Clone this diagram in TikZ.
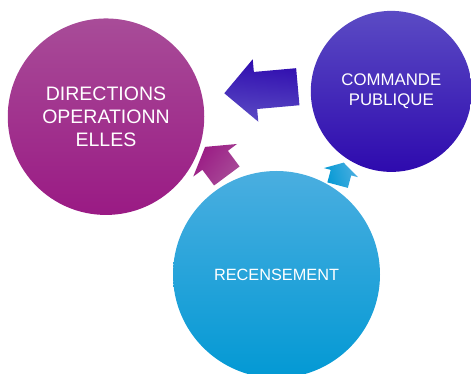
\documentclass[tikz,border=0pt]{standalone}
\usepackage{fontspec}
\setmainfont{Liberation Sans}
\usetikzlibrary{shapes.arrows}
\definecolor{magtop}{RGB}{168,76,152}
\definecolor{magbot}{RGB}{154,26,132}
\definecolor{purtop}{RGB}{91,75,196}
\definecolor{purbot}{RGB}{46,10,174}
\definecolor{blutop}{RGB}{74,174,224}
\definecolor{blubot}{RGB}{3,153,212}
\tikzset{
  bubble/.style = {circle, inner sep=0pt, align=center, text=white},
  mbubble/.style = {bubble, top color=magtop, bottom color=magbot, minimum size=196.5pt,
    font=\fontsize{19.5}{23.3}\selectfont},% bulle directions
  pbubble/.style = {bubble, top color=purtop, bottom color=purbot, minimum size=161pt,
    font=\fontsize{16.8}{20}\selectfont},% bulle commande
  bbubble/.style = {bubble, top color=blutop, bottom color=blubot, minimum size=207pt,
    font=\fontsize{16.3}{19.6}\selectfont},% bulle recensement
  fleche/.style = {single arrow, inner xsep=0pt, anchor=tip},
}

\begin{document}
\begin{tikzpicture}[x=1pt,y=1pt]
\useasboundingbox (0,0) rectangle (471,374);
\node [mbubble] (dir) at (106,257.3) {DIRECTIONS\\OPERATIONN\\ELLES};
\node [pbubble] (cmd) at (391.3,282.6) {COMMANDE\\PUBLIQUE};
\node [bbubble] (rec) at (276.5,99.5) {RECENSEMENT};
% fleches du cycle
\node [fleche, rotate=185.1, minimum height=73.8pt, inner ysep=18.4pt,
  single arrow head extend=12.75pt, top color=purtop, bottom color=purbot,
  shading angle=-185.1] (fcmd) at (224,280.7) {};
\node [fleche, rotate=126.7, minimum height=36.3pt, inner ysep=15.7pt,
  single arrow head extend=11.4pt, single arrow tip angle=117,
  top color=magtop, bottom color=magbot, shading angle=-126.7] (fdir) at (205,227.3) {};
\node [fleche, rotate=75, minimum height=23.3pt, inner ysep=10.4pt,
  single arrow head extend=7pt, single arrow tip angle=119,
  top color=blutop, bottom color=blubot, shading angle=-75] (frec) at (343.7,211.6) {};
\end{tikzpicture}
\end{document}
